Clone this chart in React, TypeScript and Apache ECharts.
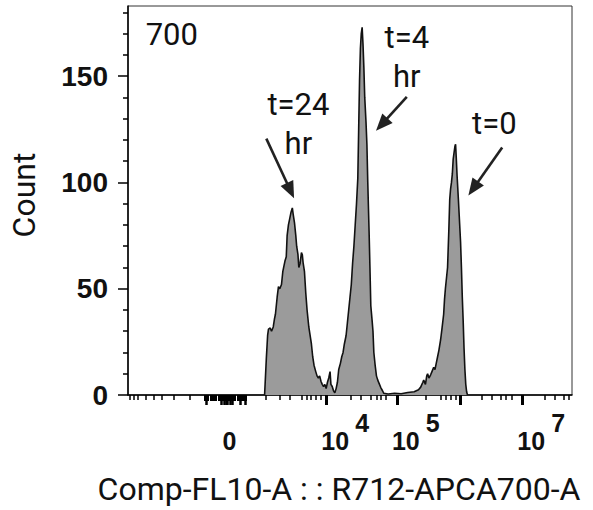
import React, { useEffect, useRef } from 'react';
import * as echarts from 'echarts';

// Histogram: display channel (0-1024, logicle-like scale) vs count
const CHANNELS = [
  315, 319, 322, 324, 328, 331, 335, 338, 340, 344, 347, 350, 354, 357, 359, 362, 365, 367, 370, 373,
  376, 379, 381, 384, 387, 389, 392, 394, 397, 400, 402, 404, 407, 410, 413, 417, 420, 423, 426, 429,
  433, 436, 439, 442, 445, 448, 451, 454, 457, 460, 463, 466, 468, 471, 474, 477, 480, 483, 486, 490,
  493, 496, 499, 503, 506, 509, 512, 515, 518, 521, 524, 527, 530, 532, 534, 536, 538, 540, 542, 544,
  546, 549, 551, 553, 556, 558, 560, 563, 565, 567, 570, 573, 576, 580, 583, 587, 590, 600, 615, 630,
  645, 660, 670, 675, 680, 682, 686, 689, 691, 694, 698, 701, 705, 708, 711, 714, 717, 721, 724, 728,
  730, 732, 735, 737, 740, 742, 744, 746, 748, 750, 752, 754, 755.5, 757, 759, 762, 764, 767, 769, 771,
  773, 775, 777, 779, 781, 783,
];
const COUNTS = [
  0, 17, 28, 31, 31.5, 30, 32, 36, 38, 46, 51, 50, 52, 58, 60, 63, 65, 75, 80, 83,
  86, 88, 85, 81, 75, 70, 66, 60, 62, 67, 66, 62, 58, 48, 40, 32, 28, 24, 18, 14,
  11, 9, 8, 9, 6.5, 5, 4, 5, 3, 6, 8, 11, 5, 4, 2, 1, 3, 6, 12, 15,
  18, 20, 24, 28, 34, 40, 46, 52, 62, 70, 80, 90, 102, 125, 148, 163, 170, 173, 165, 154,
  140, 128, 118, 100, 77, 60, 42, 35, 30, 20, 14, 9, 7, 5, 3.5, 2, 0.8, 0.5, 0.8, 0.6,
  1.2, 1.5, 2.5, 3.7, 6, 7, 5, 9, 10, 8, 9.5, 11, 13, 12, 15, 18, 21, 26, 31, 38,
  45, 50, 56, 60, 78, 92, 97, 100, 104, 111, 114, 117, 118, 112, 103, 92, 84, 72, 60, 46,
  35, 22, 12, 5, 1.5, 0,
];

// X axis ticks and labels (display channels)
const X_LABEL_VALUES = [234, 457, 620, 909];
const X_LABEL_EXPONENTS = ['', '4', '5', '7'];
const X_MAJOR_TICKS = [457, 620, 767, 909];
const X_MINOR_TICKS = [
  5, 14, 23, 41, 60, 78, 106, 142, 317, 349, 372, 400, 413, 422, 432, 445,
  514, 537, 560, 574, 583, 595, 686, 721, 732, 744, 755, 817, 840, 859, 872, 886,
  962, 985, 1006, 1017,
];
const X_ZERO_TICKS = [
  178, 182, 185, 190, 194, 197, 202, 209, 213, 217, 220, 224, 228, 232, 236, 240,
  244, 247, 252, 258, 262, 266, 271,
];
const X_ZERO_TICKS_LONG = [181, 214, 222, 226, 230, 235, 240, 258, 271];
const Y_MINOR_TICKS = [10, 20, 30, 40, 60, 70, 80, 90, 110, 120, 130, 140, 160, 170, 180];

// Annotations in data coordinates
const LABELS = [
  { text: '700', x: 101, y: 169.6 },
  { text: 't=24\nhr', x: 393, y: 127.3 },
  { text: 't=4\nhr', x: 643, y: 158.9 },
  { text: 't=0', x: 845, y: 127.6 },
];
const ARROWS = [
  { from: [319, 120.6], to: [383, 92.5] },
  { from: [643, 140.2], to: [572, 124.3] },
  { from: [863, 116.4], to: [785, 93.9] },
];

const TICK_FONT = 'Liberation Sans, Arial, sans-serif';
const TEXT_FONT = 'Roboto, sans-serif';

export default function App() {
  const ref = useRef<HTMLDivElement>(null);

  useEffect(() => {
    document.body.style.margin = '0';
    if (!ref.current) return;
    const chart = echarts.init(ref.current, null, { renderer: 'svg' });
    const data = CHANNELS.map((c, i) => [c, COUNTS[i]]);

    const baseX = {
      type: 'value' as const,
      min: 0,
      max: 1024,
      position: 'bottom' as const,
      gridIndex: 0,
      splitLine: { show: false },
    };
    const tickAxis = (values: number[], length: number, width: number) => ({
      ...baseX,
      axisLine: { show: false },
      axisTick: { show: true, customValues: values, length, lineStyle: { color: '#000', width } },
      axisLabel: { show: false },
    });

    chart.setOption({
      animation: false,
      backgroundColor: '#ffffff',
      grid: {
        left: 125,
        top: 6,
        width: 447,
        height: 392,
        show: true,
        borderColor: '#333',
        borderWidth: 1,
        backgroundColor: 'transparent',
      },
      xAxis: [
        {
          ...baseX,
          axisLine: { show: true, lineStyle: { color: '#000', width: 1.5 } },
          axisTick: {
            show: true,
            customValues: X_MAJOR_TICKS,
            length: 10,
            lineStyle: { color: '#000', width: 3 },
          },
          axisLabel: {
            show: true,
            customValues: X_LABEL_VALUES,
            margin: 19,
            formatter: (v: number) => {
              const i = X_LABEL_VALUES.indexOf(v);
              const e = X_LABEL_EXPONENTS[i];
              if (!e) return '{s| }\n{z|0}';
              return '{s|' + e + '}\n{b|10}';
            },
            rich: {
              s: { fontSize: 25, fontWeight: 'bold', fontFamily: TICK_FONT, color: '#111', lineHeight: 18, padding: [0, 0, 0, 72], align: 'center' },
              b: { fontSize: 25, fontWeight: 'bold', fontFamily: TICK_FONT, color: '#111', lineHeight: 18, padding: [0, 0, 0, 18], align: 'center' },
              z: { fontSize: 25, fontWeight: 'bold', fontFamily: TICK_FONT, color: '#111', lineHeight: 18, align: 'center' },
            },
          },
          name: 'Comp-FL10-A : : R712-APCA700-A',
          nameLocation: 'middle',
          nameGap: 78,
          nameTextStyle: { fontFamily: TEXT_FONT, fontSize: 32, color: '#111', padding: [0, 22, 0, 0] },
        },
        tickAxis(X_MINOR_TICKS, 5, 1.5),
        tickAxis(X_ZERO_TICKS, 6, 2),
        tickAxis(X_ZERO_TICKS_LONG, 10, 2.5),
      ],
      yAxis: [
        {
          type: 'value',
          min: 0,
          max: 183,
          interval: 50,
          splitLine: { show: false },
          axisLine: { show: true, lineStyle: { color: '#000', width: 1.5 } },
          axisTick: { show: true, length: 10, lineStyle: { color: '#000', width: 1.5 } },
          axisLabel: {
            margin: 20,
            fontFamily: TICK_FONT,
            fontWeight: 'bold',
            fontSize: 28,
            color: '#111',
            showMaxLabel: false,
          },
          name: 'Count',
          nameLocation: 'middle',
          nameRotate: 90,
          nameGap: 88,
          nameTextStyle: { fontFamily: TEXT_FONT, fontSize: 32, color: '#111', padding: [0, 0, 0, 11] },
        },
        {
          type: 'value',
          min: 0,
          max: 183,
          position: 'left',
          splitLine: { show: false },
          axisLine: { show: false },
          axisTick: { show: true, customValues: Y_MINOR_TICKS, length: 5, lineStyle: { color: '#000', width: 1.5 } },
          axisLabel: { show: false },
        },
      ],
      series: [
        {
          type: 'line',
          xAxisIndex: 0,
          yAxisIndex: 0,
          data,
          showSymbol: false,
          symbol: 'none',
          lineStyle: { color: '#111', width: 1.6 },
          areaStyle: { color: '#9b9b9b', opacity: 1 },
          z: 1,
        },
      ],
    });

    const toPx = (p: number[]) => chart.convertToPixel({ xAxisIndex: 0, yAxisIndex: 0 }, p) as number[];
    const graphics: any[] = [];
    LABELS.forEach((l) => {
      const [px, py] = toPx([l.x, l.y]);
      graphics.push({
        type: 'text',
        x: px,
        y: py,
        z: 10,
        style: {
          text: l.text,
          fontFamily: TEXT_FONT,
          fontSize: 31,
          lineHeight: 39,
          fill: '#111',
          align: 'center',
          verticalAlign: 'middle',
        },
      });
    });
    const HEAD_L = 17;
    const HEAD_W = 14;
    ARROWS.forEach((a) => {
      const [tx, ty] = toPx(a.from);
      const [px, py] = toPx(a.to);
      const dx = px - tx;
      const dy = py - ty;
      const len = Math.sqrt(dx * dx + dy * dy);
      const ux = dx / len;
      const uy = dy / len;
      const bx = px - ux * HEAD_L;
      const by = py - uy * HEAD_L;
      const nx = -uy;
      const ny = ux;
      graphics.push({
        type: 'line',
        z: 10,
        shape: { x1: tx, y1: ty, x2: bx + ux * 2, y2: by + uy * 2 },
        style: { stroke: '#222', lineWidth: 2.6 },
      });
      graphics.push({
        type: 'polygon',
        z: 10,
        shape: {
          points: [
            [px, py],
            [bx + (nx * HEAD_W) / 2, by + (ny * HEAD_W) / 2],
            [bx - (nx * HEAD_W) / 2, by - (ny * HEAD_W) / 2],
          ],
        },
        style: { fill: '#222' },
      });
    });
    chart.setOption({ graphic: graphics });

    return () => chart.dispose();
  }, []);

  return <div ref={ref} style={{ width: 593, height: 510 }} />;
}
